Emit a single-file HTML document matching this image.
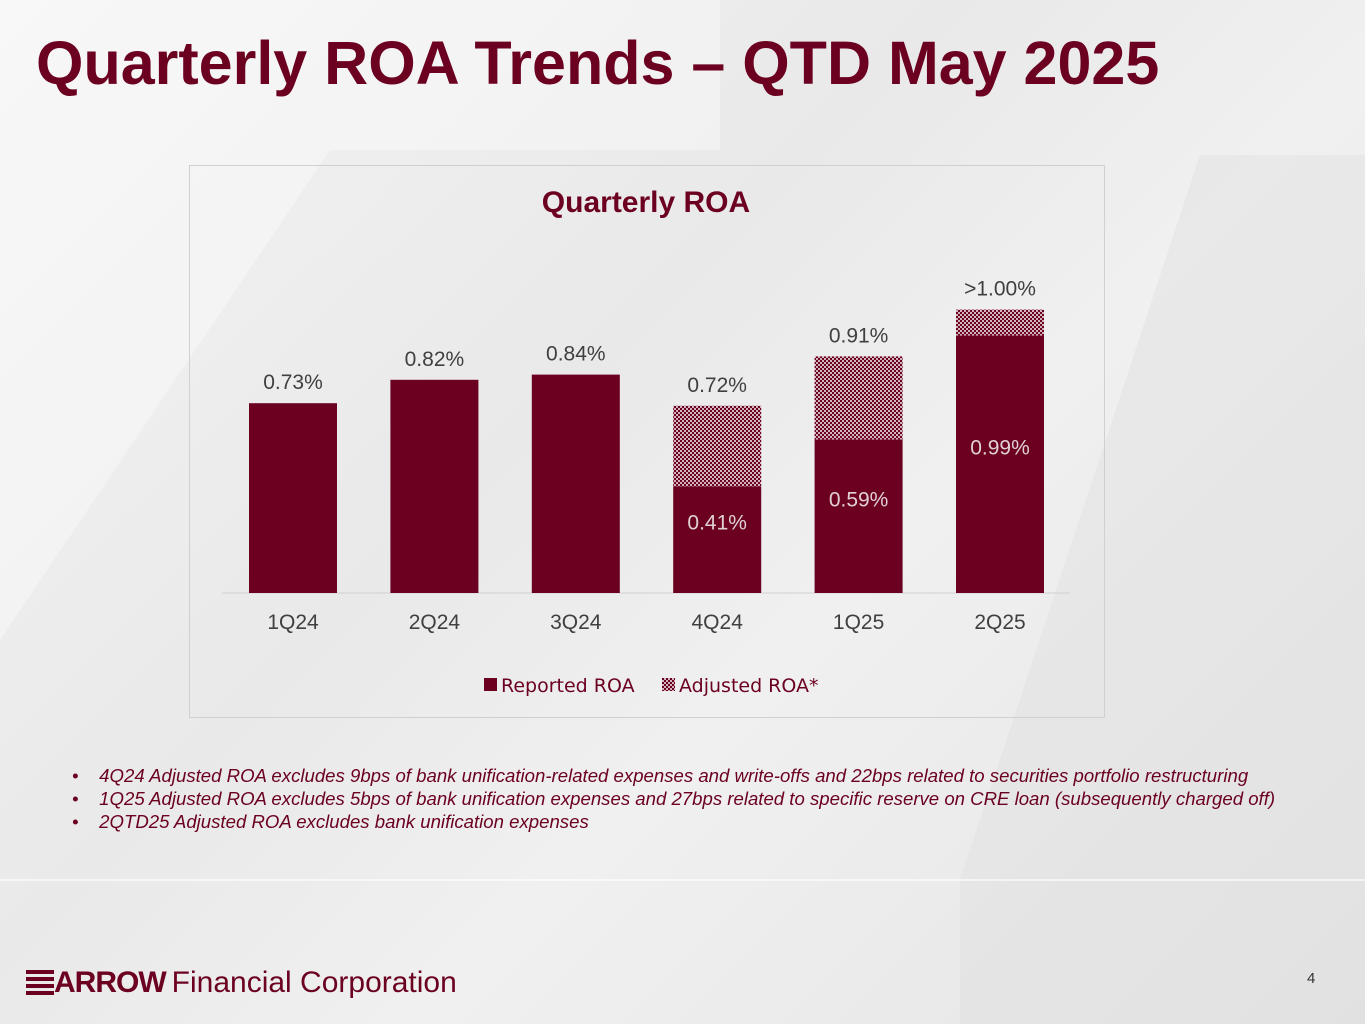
<!DOCTYPE html>
<html><head><meta charset="utf-8"><style>
body{margin:0;width:1365px;height:1024px;overflow:hidden;font-family:"Liberation Sans",sans-serif;background:linear-gradient(135deg,#f4f4f4 0%,#e9e9e9 40%,#f0f0f0 60%,#e4e4e4 100%);position:relative}
.abs{position:absolute}
</style></head><body>
<svg class="abs" style="left:0;top:0" width="1365" height="1024">
<polygon points="0,640 330,150 720,150 720,0 0,0" fill="#ffffff" opacity="0.35"/>
<polygon points="1200,155 1365,155 1365,1024 960,1024 960,880" fill="#dcdcdc" opacity="0.35"/>
<line x1="0" y1="880" x2="1365" y2="880" stroke="#fff" stroke-width="2" opacity="0.6"/>
</svg>
<div class="abs" style="left:36px;top:28px;font-size:61px;font-weight:bold;color:#6b0020;white-space:nowrap">Quarterly ROA Trends – QTD May 2025</div>
<div class="abs" style="left:189px;top:165px;width:914px;height:551px;border:1px solid #d0d0d0"></div>
<svg class="abs" style="left:0;top:0" width="1365" height="1024" id="chart">
<defs><pattern id="chk" width="4" height="4" patternUnits="userSpaceOnUse">
<rect width="4" height="4" fill="#d4b4bd"/><rect width="2" height="2" fill="#6b0020"/><rect x="2" y="2" width="2" height="2" fill="#6b0020"/></pattern></defs>
<text x="646" y="212" text-anchor="middle" font-size="30" font-weight="bold" fill="#6b0020">Quarterly ROA</text>
<line x1="222" y1="593" x2="1070" y2="593" stroke="#d0d0d0"/>
<g id="bars"></g>
<rect x="484" y="678" width="13" height="13" fill="#6b0020"/>
<text x="501" y="692" font-size="19" fill="#6b0020" font-family="DejaVu Sans, sans-serif">Reported ROA</text>
<rect x="662" y="678" width="13" height="13" fill="url(#chk)"/>
<text x="679" y="692" font-size="19" fill="#6b0020" font-family="DejaVu Sans, sans-serif">Adjusted ROA*</text>
</svg>
<div class="abs" style="left:72px;top:764px;font-size:18.6px;font-style:italic;color:#6b0020;line-height:23px;white-space:nowrap">
<div>•&nbsp;&nbsp;&nbsp;&nbsp;4Q24 Adjusted ROA excludes 9bps of bank unification-related expenses and write-offs and 22bps related to securities portfolio restructuring</div>
<div>•&nbsp;&nbsp;&nbsp;&nbsp;1Q25 Adjusted ROA excludes 5bps of bank unification expenses and 27bps related to specific reserve on CRE loan (subsequently charged off)</div>
<div>•&nbsp;&nbsp;&nbsp;&nbsp;2QTD25 Adjusted ROA excludes bank unification expenses</div>
</div>
<div class="abs" style="left:26px;top:966px;white-space:nowrap;color:#6b0020">
<span style="display:inline-block;width:28px;height:26px;vertical-align:middle;background:repeating-linear-gradient(180deg,#6b0020 0 4px,transparent 4px 7px)"></span><span style="font-size:30px;font-weight:900;letter-spacing:-1px;vertical-align:middle">ARROW</span><span style="font-size:30px;vertical-align:middle;margin-left:6px">Financial Corporation</span></div>
<div class="abs" style="left:1307px;top:970px;font-size:15px;color:#333">4</div>
<script>
const categories=["1Q24","2Q24","3Q24","4Q24","1Q25","2Q25"];
const reported=[0.73,0.82,0.84,0.41,0.59,0.99];
const adjusted=[null,null,null,0.72,0.91,1.09];
const topLabels=["0.73%","0.82%","0.84%","0.72%","0.91%",">1.00%"];
const innerLabels=[null,null,null,"0.41%","0.59%","0.99%"];
const base=593,scale=260,x0=293,step=141.4,bw=88;
const y=v=>base-v*scale, xc=i=>x0+i*step;
const g=document.getElementById('bars'),NS="http://www.w3.org/2000/svg";
function mk(t,a){const e=document.createElementNS(NS,t);for(const k in a)e.setAttribute(k,a[k]);g.appendChild(e);return e;}
categories.forEach((c,i)=>{
 if(adjusted[i]!=null){const r=mk('rect',{x:xc(i)-bw/2,y:y(adjusted[i]),width:bw,height:y(reported[i])-y(adjusted[i]),fill:'url(#chk)'});
 
 }
 const b=mk('rect',{x:xc(i)-bw/2,y:y(reported[i]),width:bw,height:base-y(reported[i]),fill:'#6b0020'});
 
 
 const top=adjusted[i]!=null?adjusted[i]:reported[i];
 const t=mk('text',{x:xc(i),y:y(top)-14,'text-anchor':'middle','font-size':21,fill:'#404040'});t.textContent=topLabels[i];
 
 
 if(innerLabels[i]){const il=mk('text',{x:xc(i),y:(y(reported[i])+base)/2-10,'text-anchor':'middle','font-size':21,fill:'#e0d0d4'});il.textContent=innerLabels[i];
 
 }
 const xl=mk('text',{x:xc(i),y:629,'text-anchor':'middle','font-size':21,fill:'#404040'});xl.textContent=c;
 
 
});
</script>
</body></html>
